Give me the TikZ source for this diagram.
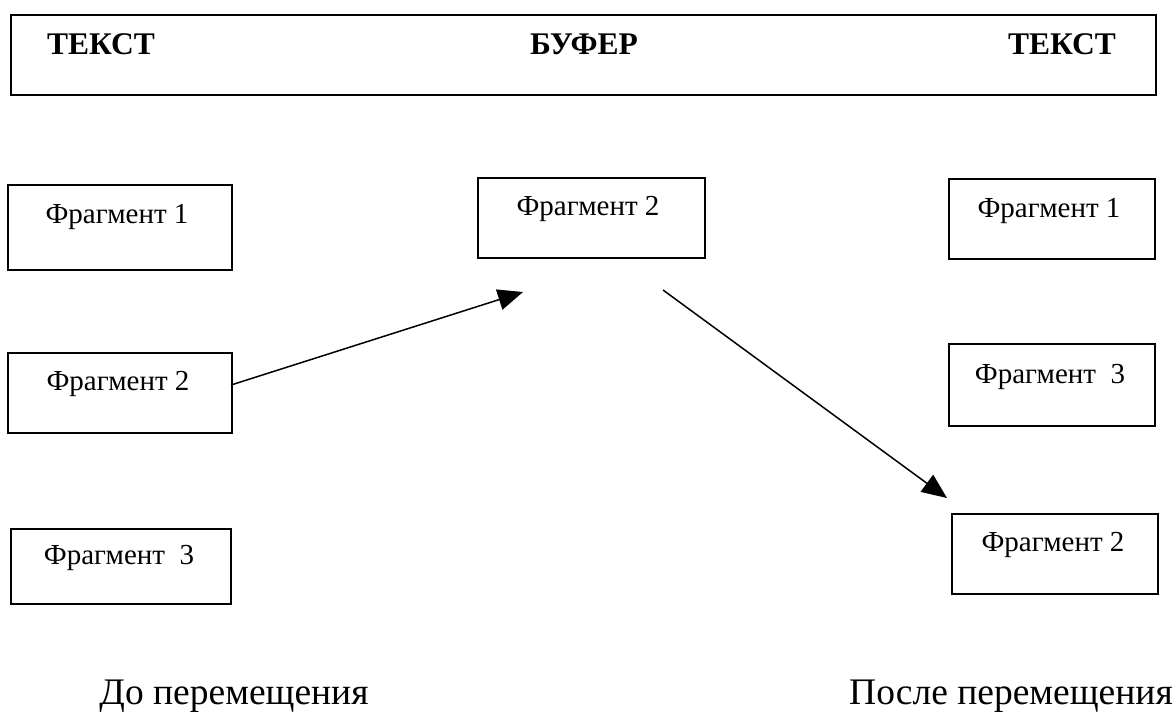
\documentclass[tikz,border=0pt]{standalone}
\usepackage{fontspec}
\setmainfont{Liberation Serif}
\usetikzlibrary{arrows.meta}
\begin{document}
\begin{tikzpicture}[x=1pt,y=-1pt,
  box/.style={draw=black,line width=1.8pt,inner sep=0pt,anchor=north west},
  frag/.style={anchor=base,inner sep=0pt,font=\fontsize{29}{33}\selectfont},
  head/.style={anchor=base,inner sep=0pt,font=\fontsize{31.5}{35}\selectfont\bfseries},
  captxt/.style={anchor=base,inner sep=0pt,font=\fontsize{37.5}{41}\selectfont},
  conn/.style={line width=1.5pt,-{Triangle[length=25pt,width=21pt]}}]
\useasboundingbox (0,0) rectangle (1175,716);
% top box
\node[box,minimum width=1145pt,minimum height=80pt] (top) at (10,14) {};
\node[head] (t1) at (101,54) {ТЕКСТ};
\node[head] (t2) at (584,54) {БУФЕР};
\node[head] (t3) at (1062,54) {ТЕКСТ};
% left column
\node[box,minimum width=224pt,minimum height=85pt] (l1) at (7,184) {};
\node[frag] (l1t) at (117,223) {Фрагмент 1};
\node[box,minimum width=224pt,minimum height=80pt] (l2) at (7,352) {};
\node[frag] (l2t) at (118,390) {Фрагмент 2};
\node[box,minimum width=220pt,minimum height=75pt] (l3) at (10,528) {};
\node[frag] (l3t) at (119,564) {Фрагмент~~3};
% buffer
\node[box,minimum width=227pt,minimum height=80pt] (b) at (477,177) {};
\node[frag] (bt) at (588,215) {Фрагмент 2};
% right column
\node[box,minimum width=206pt,minimum height=80pt] (r1) at (948,178) {};
\node[frag] (r1t) at (1049,217) {Фрагмент 1};
\node[box,minimum width=206pt,minimum height=82pt] (r3) at (948,343) {};
\node[frag] (r3t) at (1050,383) {Фрагмент~~3};
\node[box,minimum width=206pt,minimum height=80pt] (r2) at (951,513) {};
\node[frag] (r2t) at (1053,551) {Фрагмент 2};
% captions
\node[captxt] (c1) at (234,704) {До перемещения};
\node[captxt] (c2) at (1011,704) {После перемещения};
% connectors
\coordinate (a1s) at (231,385);
\coordinate (a1e) at (523,292);
\coordinate (a2s) at (663,290);
\coordinate (a2e) at (947,498);
\draw[conn] (a1s) -- (a1e);
\draw[conn] (a2s) -- (a2e);
\end{tikzpicture}
\end{document}
